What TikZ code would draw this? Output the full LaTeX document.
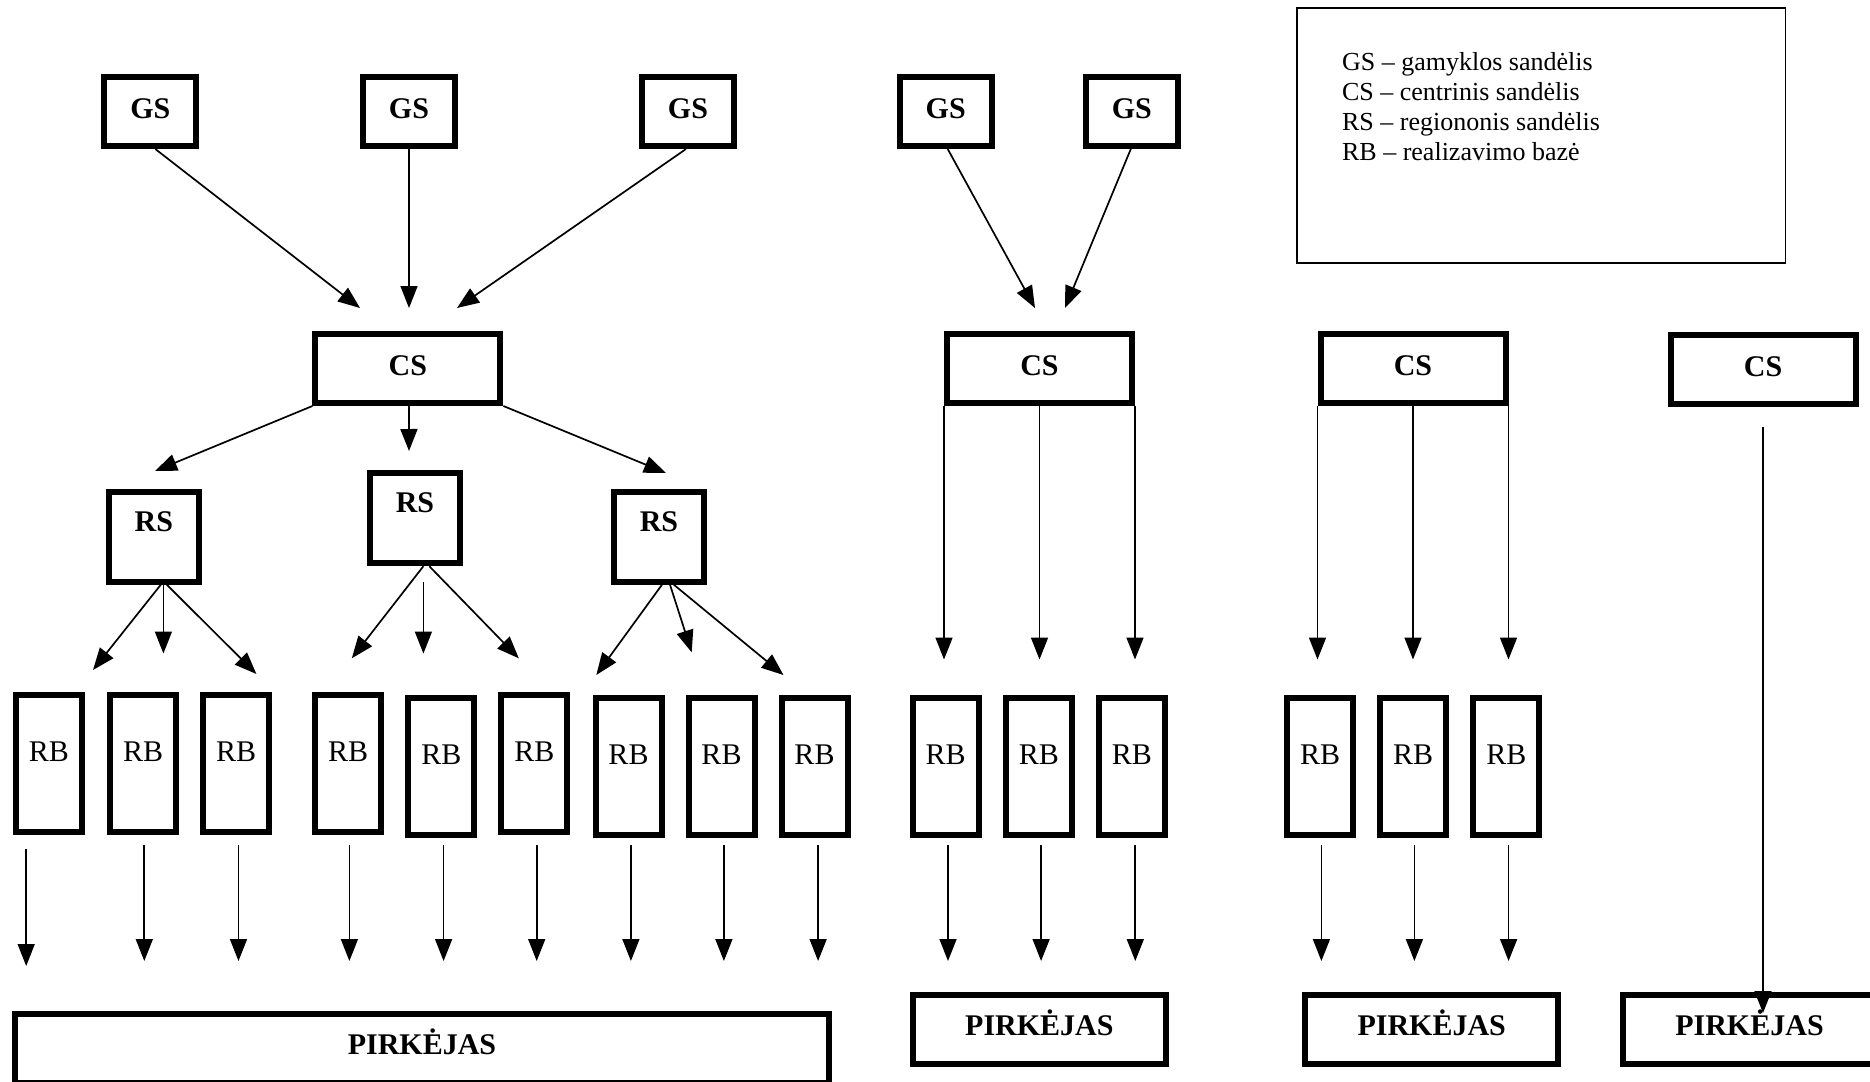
\documentclass[tikz,border=0pt]{standalone}
\usepackage{fontspec}
\setmainfont{Liberation Serif}
\usetikzlibrary{arrows.meta,calc}
\begin{document}
\begin{tikzpicture}[x=0.5pt,y=-0.5pt,
  box/.style={draw, line width=3pt, inner sep=0pt, font=\fontsize{15}{18}\selectfont\bfseries, text height=10pt, text depth=3pt},
  gsbox/.style={box, minimum width=46pt, minimum height=34.5pt},
  csbox/.style={box, minimum width=92.5pt, minimum height=34.5pt},
  rsbox/.style={box, minimum width=45pt, minimum height=45pt, text height=10pt, text depth=15.5pt},
  rbbox/.style={draw, line width=3pt, inner sep=0pt, font=\fontsize{15}{18}\selectfont, minimum width=33pt, minimum height=68.5pt, text height=10pt, text depth=12pt},
  pbox/.style={box, minimum width=126.5pt, minimum height=34.5pt, text depth=4pt},
  arr/.style={-{Triangle[length=11pt,width=8.5pt]}, line width=0.85pt}
]
\clip (0,0) rectangle (1870,1082);
\fill[white] (0,0) rectangle (1870,1082);

% legend
\node[draw, line width=0.8pt, inner sep=0pt, anchor=north west, minimum width=244.2pt, minimum height=127.4pt] (legend) at (1296.4,7.2) {};
\node[anchor=north west, align=left, inner sep=0pt, font=\fontsize{13}{15}\selectfont] (legtxt) at (1341.7,52.5)
 {GS – gamyklos sandėlis\\CS – centrinis sandėlis\\RS – regiononis sandėlis\\RB – realizavimo bazė};

% GS
\node[gsbox] (gs1) at (150.3,111.5) {GS};
\node[gsbox] (gs2) at (409,111.5) {GS};
\node[gsbox] (gs3) at (688,111.5) {GS};
\node[gsbox] (gs4) at (945.7,111.5) {GS};
\node[gsbox] (gs5) at (1131.8,111.5) {GS};

% CS
\node[csbox] (cs1) at (407.9,368.5) {CS};
\node[csbox] (cs2) at (1039.5,368.5) {CS};
\node[csbox] (cs3) at (1413,368.5) {CS};
\node[csbox] (cs4) at (1763,369) {CS};

% RS
\node[rsbox] (rs1) at (153.8,536.7) {RS};
\node[rsbox] (rs2) at (415,518.2) {RS};
\node[rsbox] (rs3) at (659,536.7) {RS};

% RB
\foreach \n/\x/\y in {1/48.9/763,2/143.1/763,3/236.1/763,4/348.2/763,5/441.3/766,6/534.3/763,7/628.5/766,8/721.5/766,9/814.5/766,
  10/945.7/766,11/1038.8/766,12/1131.8/766,13/1320.2/766,14/1413.2/766,15/1506.3/766}
  \node[rbbox] (rb\n) at (\x,\y) {RB};

% PIRKEJAS
\node[pbox, minimum width=407pt] (p1) at (422,1048) {PIRKĖJAS};
\node[pbox] (p2) at (1039.4,1029.5) {PIRKĖJAS};
\node[pbox] (p3) at (1431.7,1029.5) {PIRKĖJAS};
\node[pbox] (p4) at (1749.5,1029.5) {PIRKĖJAS};

% GS -> CS
\coordinate (g1t) at (360,308);
\coordinate (g2t) at (409,308);
\coordinate (g3t) at (457,308);
\coordinate (g4t) at (1035,308);
\coordinate (g5t) at (1065,308);
\draw[arr] ($(gs1.south)+(5,0)$) -- (g1t);
\draw[arr] (gs2.south) -- (g2t);
\draw[arr] ($(gs3.south)+(-2,0)$) -- (g3t);
\draw[arr] ($(gs4.south)+(2,0)$) -- (g4t);
\draw[arr] ($(gs5.south)+(-1,0)$) -- (g5t);

% CS1 -> RS
\coordinate (c1a) at (155,471);
\coordinate (c1b) at (409,451);
\coordinate (c1c) at (666,473);
\draw[arr] (cs1.south west) -- (c1a);
\draw[arr] ($(cs1.south)+(1,0)$) -- (c1b);
\draw[arr] (cs1.south east) -- (c1c);

% RS -> RB
\coordinate (r1a) at (93,670);
\coordinate (r1b) at (163.4,653.5);
\coordinate (r1c) at (256.4,674);
\draw[arr] ($(rs1.south)+(7,0)$) -- (r1a);
\draw[arr] ($(rs1.south)+(9.6,0)$) -- (r1b);
\draw[arr] ($(rs1.south)+(13,0)$) -- (r1c);

\coordinate (r2a) at (351.8,658.3);
\coordinate (r2s) at (423.4,582);
\coordinate (r2b) at (423.4,653.5);
\coordinate (r2c) at (518.8,658.3);
\draw[arr] ($(rs2.south)+(8.4,0)$) -- (r2a);
\draw[arr] (r2s) -- (r2b);
\draw[arr] ($(rs2.south)+(14.3,0)$) -- (r2c);

\coordinate (r3a) at (596.3,675);
\coordinate (r3b) at (691.7,652.3);
\coordinate (r3c) at (783.5,675);
\draw[arr] ($(rs3.south)+(3,0)$) -- (r3a);
\draw[arr] ($(rs3.south)+(11,0)$) -- (r3b);
\draw[arr] ($(rs3.south)+(14.8,0)$) -- (r3c);

% CS2, CS3 -> RB
\coordinate (lvl) at (0,659.5);
\coordinate (c2a) at (cs2.south west |- lvl);
\coordinate (c2b) at (cs2.south |- lvl);
\coordinate (c2c) at (cs2.south east |- lvl);
\draw[arr] (cs2.south west) -- (c2a);
\draw[arr] (cs2.south) -- (c2b);
\draw[arr] (cs2.south east) -- (c2c);
\coordinate (c3a) at (cs3.south west |- lvl);
\coordinate (c3b) at (cs3.south |- lvl);
\coordinate (c3c) at (cs3.south east |- lvl);
\draw[arr] (cs3.south west) -- (c3a);
\draw[arr] (cs3.south) -- (c3b);
\draw[arr] (cs3.south east) -- (c3c);

% CS4 -> PIRKEJAS
\coordinate (c4s) at (1763,427);
\coordinate (c4t) at (1763,1013);
\draw[arr] (c4s) -- (c4t);

% RB -> PIRKEJAS
\coordinate (d0s) at (26.2,849);
\coordinate (d0t) at (26.2,966);
\draw[arr] (d0s) -- (d0t);
\foreach \x [count=\i] in {144.3,238.5,349.4,443.6,536.7,630.9,723.9,818.1,948,1041.1,1135.3,1321.4,1414.4,1508.6}{
  \coordinate (ds\i) at (\x,845);
  \coordinate (dt\i) at (\x,961);
  \draw[arr] (ds\i) -- (dt\i);
}
\end{tikzpicture}
\end{document}
